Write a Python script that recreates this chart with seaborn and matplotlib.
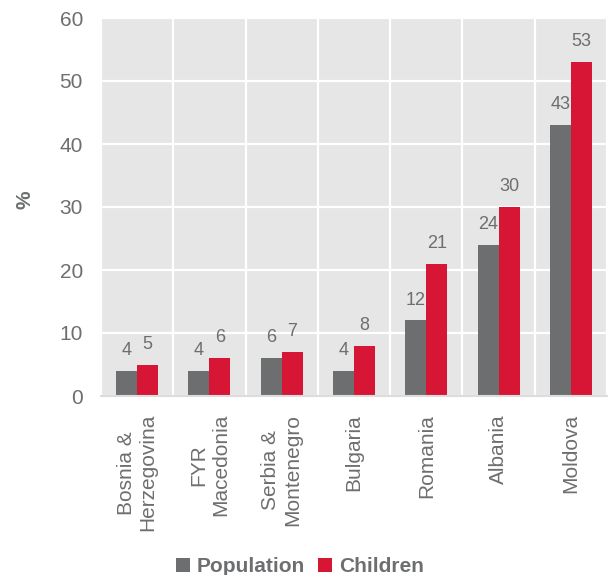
import matplotlib
matplotlib.use("Agg")
import matplotlib.pyplot as plt
import seaborn as sns
import pandas as pd
from matplotlib.patches import Patch
from matplotlib.ticker import FixedLocator

countries = ["Bosnia &\nHerzegovina", "FYR\nMacedonia", "Serbia &\nMontenegro",
             "Bulgaria", "Romania", "Albania", "Moldova"]
population = [4, 4, 6, 4, 12, 24, 43]
children = [5, 6, 7, 8, 21, 30, 53]
series = ["Population", "Children"]
colors = ["#6d6e70", "#d71635"]
yticks = [0, 10, 20, 30, 40, 50, 60]

TXT = "#6d6e70"

rows = []
for c, p, ch in zip(countries, population, children):
    rows.append({"country": c, "series": "Population", "value": p})
    rows.append({"country": c, "series": "Children", "value": ch})
df = pd.DataFrame(rows)

sns.set_style("whitegrid")
plt.rcParams["font.family"] = ["Liberation Sans", "DejaVu Sans"]

fig = plt.figure(figsize=(6.08, 5.75), dpi=100)
ax = fig.add_axes([101 / 608, 1 - 396 / 575, 506 / 608, (396 - 18) / 575])
ax.set_facecolor("#e6e6e6")

sns.barplot(data=df, x="country", y="value", hue="series", hue_order=series,
            order=countries, palette=colors, width=0.58, gap=0,
            saturation=1, legend=False, ax=ax, linewidth=0)

for cont in ax.containers:
    ax.bar_label(cont, fmt="%g", padding=8.5, fontsize=13, color=TXT)

ax.set_ylim(0, 60)
ax.set_xlim(-0.5, len(countries) - 0.5)
ax.set_yticks(yticks)
ax.xaxis.set_minor_locator(FixedLocator([i - 0.5 for i in range(len(countries) + 1)]))

ax.grid(False)
ax.grid(True, axis="y", which="major", color="white", linewidth=1.6)
ax.grid(True, axis="x", which="minor", color="white", linewidth=1.6)
ax.set_axisbelow(True)

for s in ["top", "right", "left"]:
    ax.spines[s].set_visible(False)
ax.spines["bottom"].set_color("#dcdcdc")
ax.spines["bottom"].set_linewidth(1.5)

ax.tick_params(axis="y", length=0, pad=13, labelsize=15, labelcolor=TXT)
ax.tick_params(axis="x", which="major", length=0, pad=13, labelsize=15, labelcolor=TXT)
ax.tick_params(axis="x", which="minor", length=6, width=1.5, color="#dcdcdc")
ax.set_xticks(range(len(countries)))
ax.set_xticklabels(countries, rotation=90, ha="center", va="top", multialignment="center")

ax.set_xlabel("")
ax.set_ylabel("%", fontsize=15, fontweight="bold", color=TXT)
ax.yaxis.set_label_coords(-0.132, 0.518)

handles = [Patch(facecolor=c, edgecolor="none", label=s) for s, c in zip(series, colors)]
leg = fig.legend(handles=handles, loc="lower center", bbox_to_anchor=(0.493, -0.035),
                 ncol=2, frameon=False, handlelength=0.68, handleheight=0.68,
                 handletextpad=0.33, columnspacing=0.6,
                 prop={"size": 15, "weight": "bold"})
for t in leg.get_texts():
    t.set_color(TXT)

fig.savefig("out.png", dpi=100)
